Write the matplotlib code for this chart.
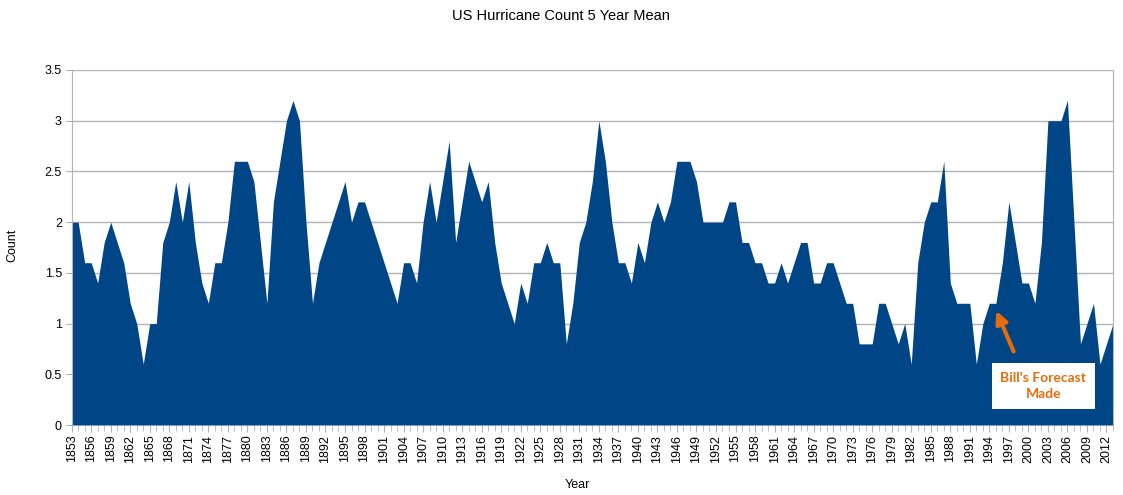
import matplotlib
matplotlib.use("Agg")
import matplotlib.pyplot as plt
from matplotlib.ticker import MultipleLocator

years = list(range(1853, 2014))
counts = [
    2.0, 2.0, 1.6, 1.6, 1.4, 1.8, 2.0, 1.8, 1.6, 1.2,   # 1853-1862
    1.0, 0.6, 1.0, 1.0, 1.8, 2.0, 2.4, 2.0, 2.4, 1.8,   # 1863-1872
    1.4, 1.2, 1.6, 1.6, 2.0, 2.6, 2.6, 2.6, 2.4, 1.8,   # 1873-1882
    1.2, 2.2, 2.6, 3.0, 3.2, 3.0, 2.0, 1.2, 1.6, 1.8,   # 1883-1892
    2.0, 2.2, 2.4, 2.0, 2.2, 2.2, 2.0, 1.8, 1.6, 1.4,   # 1893-1902
    1.2, 1.6, 1.6, 1.4, 2.0, 2.4, 2.0, 2.4, 2.8, 1.8,   # 1903-1912
    2.2, 2.6, 2.4, 2.2, 2.4, 1.8, 1.4, 1.2, 1.0, 1.4,   # 1913-1922
    1.2, 1.6, 1.6, 1.8, 1.6, 1.6, 0.8, 1.2, 1.8, 2.0,   # 1923-1932
    2.4, 3.0, 2.6, 2.0, 1.6, 1.6, 1.4, 1.8, 1.6, 2.0,   # 1933-1942
    2.2, 2.0, 2.2, 2.6, 2.6, 2.6, 2.4, 2.0, 2.0, 2.0,   # 1943-1952
    2.0, 2.2, 2.2, 1.8, 1.8, 1.6, 1.6, 1.4, 1.4, 1.6,   # 1953-1962
    1.4, 1.6, 1.8, 1.8, 1.4, 1.4, 1.6, 1.6, 1.4, 1.2,   # 1963-1972
    1.2, 0.8, 0.8, 0.8, 1.2, 1.2, 1.0, 0.8, 1.0, 0.6,   # 1973-1982
    1.6, 2.0, 2.2, 2.2, 2.6, 1.4, 1.2, 1.2, 1.2, 0.6,   # 1983-1992
    1.0, 1.2, 1.2, 1.6, 2.2, 1.8, 1.4, 1.4, 1.2, 1.8,   # 1993-2002
    3.0, 3.0, 3.0, 3.2, 2.0, 0.8, 1.0, 1.2, 0.6, 0.8,   # 2003-2012
    1.0,                                                # 2013
]
tick_years = years[::3]
y_ticks = [0, 0.5, 1, 1.5, 2, 2.5, 3, 3.5]
y_tick_labels = ["0", "0.5", "1", "1.5", "2", "2.5", "3", "3.5"]
title = "US Hurricane Count 5 Year Mean"
note_year = 1995
note_value = 1.15

plt.rcParams['font.family'] = ['Liberation Sans', 'DejaVu Sans']

W, H = 1123, 495
fig = plt.figure(figsize=(W / 100, H / 100), dpi=100)
ax = fig.add_axes([0.0638, 0.1414, 0.9911 - 0.0638, 0.8586 - 0.1414])

ax.fill_between(years, counts, 0, color='#004586', linewidth=0, zorder=2)

ax.set_xlim(years[0], years[-1])
ax.set_ylim(0, 3.5)
ax.set_yticks(y_ticks)
ax.set_yticklabels(y_tick_labels, fontsize=9)
ax.set_xticks(tick_years)
ax.set_xticklabels([str(y) for y in tick_years], rotation=90, fontsize=9)
ax.xaxis.set_minor_locator(MultipleLocator(1))

ax.grid(axis='y', color='#b3b3b3', linewidth=1, zorder=0)
ax.set_axisbelow(True)
for side in ['top', 'bottom']:
    ax.spines[side].set_visible(False)
ax.spines['right'].set_color('#b3b3b3')
ax.spines['left'].set_color('#b3b3b3')
ax.tick_params(axis='x', which='major', length=5, color='#b3b3b3', pad=2)
ax.tick_params(axis='x', which='minor', length=4, color='#b3b3b3')
ax.tick_params(axis='y', which='major', length=4, color='#b3b3b3', pad=3)

fig.text(577 / W, 1 - 485 / H, "Year", ha='center', va='center', fontsize=9)
fig.text(12 / W, 1 - 245 / H, "Count", ha='center', va='center', fontsize=9, rotation=90)
fig.text(561 / W, 1 - 16 / H, title, ha='center', va='center', fontsize=10.5)

# annotation
ax.annotate("", xy=(note_year - 0.1, note_value), xytext=(note_year + 2.9, 0.7),
            arrowprops=dict(arrowstyle='-|>,head_width=0.35,head_length=0.7',
                            color='#e46c0a', lw=3), zorder=5)
ax.text(note_year + 7.3, 0.385, "Bill's Forecast\nMade", ha='center', va='center',
        fontsize=10, fontweight='bold', color='#e46c0a', family=['Lato', 'DejaVu Sans'],
        linespacing=1.45,
        bbox=dict(boxstyle='square,pad=0.6', facecolor='white', edgecolor='none'),
        zorder=6)

fig.savefig("out.png", dpi=100)
